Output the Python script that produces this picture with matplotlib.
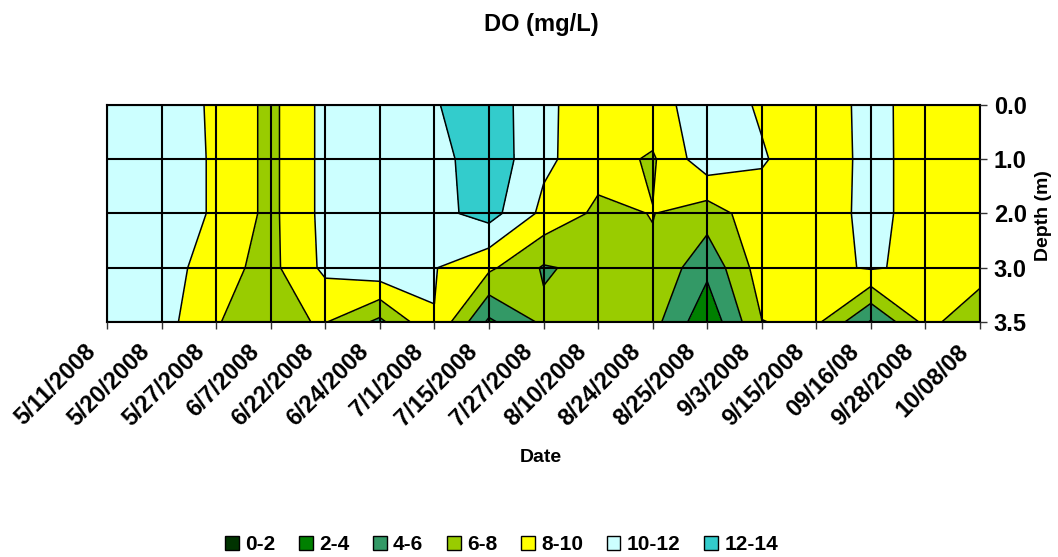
import numpy as np
import matplotlib
matplotlib.use('Agg')
import matplotlib.pyplot as plt
import matplotlib.transforms as mtransforms
from matplotlib.patches import Patch

plt.rcParams['font.family'] = ['Liberation Sans', 'DejaVu Sans']
plt.rcParams['font.weight'] = 'bold'

# sampling dates (category axis)
dates = ['5/11/2008', '5/20/2008', '5/27/2008', '6/7/2008', '6/22/2008', '6/24/2008',
         '7/1/2008', '7/15/2008', '7/27/2008', '8/10/2008', '8/24/2008', '8/25/2008',
         '9/3/2008', '9/15/2008', '09/16/08', '9/28/2008', '10/08/08']
depth_labels = ['0.0', '1.0', '2.0', '3.0', '3.5']

# DO (mg/L) per depth, one value per date
do_00 = [11.0, 11.4, 9.6, 7.5, 10.6, 11.0, 11.85, 13.2, 10.5, 8.7, 9.32, 10.9, 9.8, 9.1, 10.5, 9.28, 9.0]
do_10 = [11.0, 11.8, 9.6, 7.5, 10.6, 11.0, 11.17, 13.35, 10.42, 8.8, 7.75, 11.3, 10.15, 9.0, 10.5, 9.3, 9.0]
do_20 = [11.0, 11.8, 9.6, 7.5, 10.6, 11.0, 11.35, 12.79, 9.5, 7.58, 8.05, 6.95, 9.28, 9.1, 10.5, 9.3, 9.0]
do_30 = [11.0, 11.28, 8.61, 7.46, 10.45, 11.5, 10.1, 8.4, 5.8, 6.57, 7.76, 4.5, 9.0, 9.43, 10.2, 9.51, 8.81]
do_35 = [11.0, 10.88, 8.03, 7.72, 8.1, 5.5, 9.95, 3.6, 6.4, 7.0, 6.7, 2.5, 7.95, 8.42, 3.8, 8.57, 6.67]

levels = [0, 2, 4, 6, 8, 10, 12, 14]
band_labels = ['0-2', '2-4', '4-6', '6-8', '8-10', '10-12', '12-14']
band_colors = ['#003300', '#008000', '#339966', '#99CC00', '#FFFF00', '#CCFFFF', '#33CCCC']

z = np.array([do_00, do_10, do_20, do_30, do_35])
x = np.arange(len(dates))
y = np.arange(len(depth_labels))

fig = plt.figure(figsize=(10.58, 5.57), dpi=100)
ax = fig.add_axes([107/1058, 1 - 322/557, (980-107)/1058, (322-105)/557])

ax.contourf(x, y, z, levels=levels, colors=band_colors)
ax.contour(x, y, z, levels=levels, colors='black', linewidths=1.1)

ax.set_xlim(0, len(dates) - 1)
ax.set_ylim(len(depth_labels) - 1, 0)
ax.set_xticks(x)
ax.set_xticklabels([])
# date labels drawn by hand so they can sit down-left of each tick, like the original
shift = mtransforms.ScaledTranslation(-15/100, -26/100, fig.dpi_scale_trans)
for i, d in enumerate(dates):
    ax.text(i, 0, d, transform=ax.get_xaxis_transform() + shift, rotation=45,
            ha='right', va='center', rotation_mode='anchor', fontsize=17, fontweight='bold')
ax.set_yticks(y)
ax.set_yticklabels(depth_labels, fontsize=17, fontweight='bold')
ax.yaxis.tick_right()
ax.tick_params(axis='both', direction='out', length=5, width=1, color='#333333')
ax.tick_params(axis='y', pad=5)
ax.grid(True, color='black', linewidth=1.5)
ax.set_axisbelow(False)
for s in ax.spines.values():
    s.set_linewidth(1.5)

fig.text(541/1058, 1 - 457/557, 'Date', ha='center', va='center', fontsize=14, fontweight='bold')
fig.text(1043/1058, 1 - 216/557, 'Depth (m)', ha='center', va='center', rotation=90,
         fontsize=14, fontweight='bold')
fig.text(541/1058, 1 - 25/557, 'DO (mg/L)', ha='center', va='center', fontsize=17, fontweight='bold')

handles = [Patch(facecolor=c, edgecolor='black', linewidth=1) for c in band_colors]
fig.legend(handles, band_labels, loc='center', bbox_to_anchor=(0.474, 1 - 545/557), ncol=7, frameon=False,
           handlelength=0.65, handleheight=0.65, handletextpad=0.3, columnspacing=1.15,
           prop={'weight': 'bold', 'size': 15})

fig.savefig('out.png', dpi=100)
